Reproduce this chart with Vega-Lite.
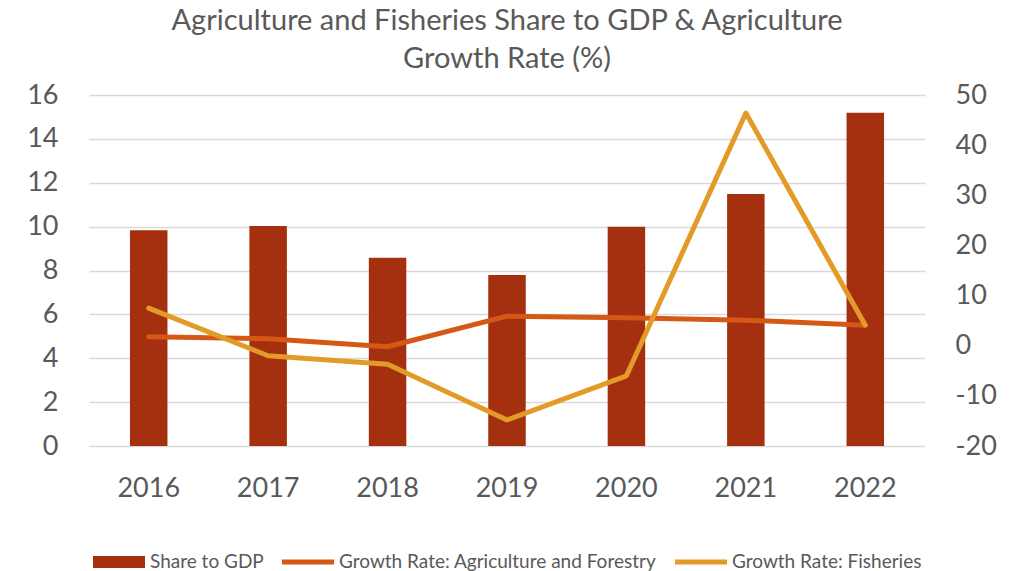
{
  "$schema": "https://vega.github.io/schema/vega-lite/v6.json",
  "autosize": "none",
  "width": 836,
  "height": 351,
  "padding": {"left": 89, "top": 95, "right": 95, "bottom": 125},
  "background": "white",
  "title": {
    "text": ["Agriculture and Fisheries Share to GDP & Agriculture", "Growth Rate (%)"],
    "font": "Lato",
    "fontSize": 29,
    "fontWeight": "normal",
    "color": "#595959",
    "lineHeight": 38,
    "anchor": "middle",
    "frame": "group",
    "baseline": "bottom",
    "offset": -22
  },
  "config": {
    "view": {"stroke": null},
    "font": "Lato"
  },
  "data": {
    "values": [
      {"year": "2016", "series": "Share to GDP", "value": 9.83},
      {"year": "2017", "series": "Share to GDP", "value": 10.03},
      {"year": "2018", "series": "Share to GDP", "value": 8.58},
      {"year": "2019", "series": "Share to GDP", "value": 7.79},
      {"year": "2020", "series": "Share to GDP", "value": 10.0},
      {"year": "2021", "series": "Share to GDP", "value": 11.49},
      {"year": "2022", "series": "Share to GDP", "value": 15.19},
      {"year": "2016", "series": "Growth Rate: Agriculture and Forestry", "value": 1.8},
      {"year": "2017", "series": "Growth Rate: Agriculture and Forestry", "value": 1.4},
      {"year": "2018", "series": "Growth Rate: Agriculture and Forestry", "value": -0.2},
      {"year": "2019", "series": "Growth Rate: Agriculture and Forestry", "value": 5.9},
      {"year": "2020", "series": "Growth Rate: Agriculture and Forestry", "value": 5.6},
      {"year": "2021", "series": "Growth Rate: Agriculture and Forestry", "value": 5.1},
      {"year": "2022", "series": "Growth Rate: Agriculture and Forestry", "value": 4.1},
      {"year": "2016", "series": "Growth Rate: Fisheries", "value": 7.5},
      {"year": "2017", "series": "Growth Rate: Fisheries", "value": -2.0},
      {"year": "2018", "series": "Growth Rate: Fisheries", "value": -3.7},
      {"year": "2019", "series": "Growth Rate: Fisheries", "value": -14.8},
      {"year": "2020", "series": "Growth Rate: Fisheries", "value": -6.0},
      {"year": "2021", "series": "Growth Rate: Fisheries", "value": 46.4},
      {"year": "2022", "series": "Growth Rate: Fisheries", "value": 4.1}
    ]
  },
  "encoding": {
    "x": {
      "field": "year",
      "type": "ordinal",
      "scale": {"paddingInner": 0.686, "paddingOuter": 0.343},
      "axis": {
        "title": null,
        "labelAngle": 0,
        "labelFont": "Lato",
        "labelFontSize": 27,
        "labelColor": "#595959",
        "labelPadding": 29,
        "ticks": false,
        "domain": false,
        "grid": false
      }
    },
    "color": {
      "field": "series",
      "type": "nominal",
      "scale": {
        "domain": ["Share to GDP", "Growth Rate: Agriculture and Forestry", "Growth Rate: Fisheries"],
        "range": ["#A5300F", "#D55816", "#E39B27"]
      },
      "legend": {
        "title": null,
        "orient": "none",
        "direction": "horizontal",
        "legendX": 4,
        "legendY": 441,
        "labelFont": "Lato",
        "labelFontSize": 19,
        "labelColor": "#595959",
        "labelLimit": 500,
        "labelOffset": 5,
        "columnPadding": 18,
        "symbolSize": 2704,
        "symbolStrokeWidth": 0,
        "symbolOpacity": 1,
        "encode": {
          "symbols": {
            "update": {
              "shape": {"signal": "datum.value === 'Share to GDP' ? 'M-1,-0.23H1V0.23H-1Z' : 'M-1,-0.1H1V0.1H-1Z'"},
              "fill": {"scale": "color", "field": "value"},
              "strokeWidth": {"value": 0}
            }
          }
        }
      }
    }
  },
  "layer": [
    {
      "transform": [{"filter": "datum.series === 'Share to GDP'"}],
      "mark": {"type": "bar"},
      "encoding": {
        "y": {
          "field": "value",
          "type": "quantitative",
          "scale": {"domain": [0, 16], "nice": false, "zero": true},
          "axis": {
            "title": null,
            "values": [0, 2, 4, 6, 8, 10, 12, 14, 16],
            "labelFont": "Lato",
            "labelFontSize": 27,
            "labelColor": "#595959",
            "labelPadding": 31,
            "ticks": false,
            "domain": false,
            "grid": true,
            "gridColor": "#D9D9D9",
            "gridWidth": 1.5
          }
        }
      }
    },
    {
      "transform": [{"filter": "datum.series !== 'Share to GDP'"}],
      "mark": {"type": "line", "strokeWidth": 5, "strokeCap": "round", "strokeJoin": "round"},
      "encoding": {
        "y": {
          "field": "value",
          "type": "quantitative",
          "scale": {"domain": [-20, 50], "nice": false, "zero": false},
          "axis": {
            "title": null,
            "orient": "right",
            "values": [-20, -10, 0, 10, 20, 30, 40, 50],
            "labelExpr": "replace(datum.label, '−', '-')",
            "labelFont": "Lato",
            "labelFontSize": 27,
            "labelColor": "#595959",
            "labelPadding": 30,
            "ticks": false,
            "domain": false,
            "grid": false
          }
        }
      }
    }
  ],
  "resolve": {"scale": {"y": "independent"}}
}
